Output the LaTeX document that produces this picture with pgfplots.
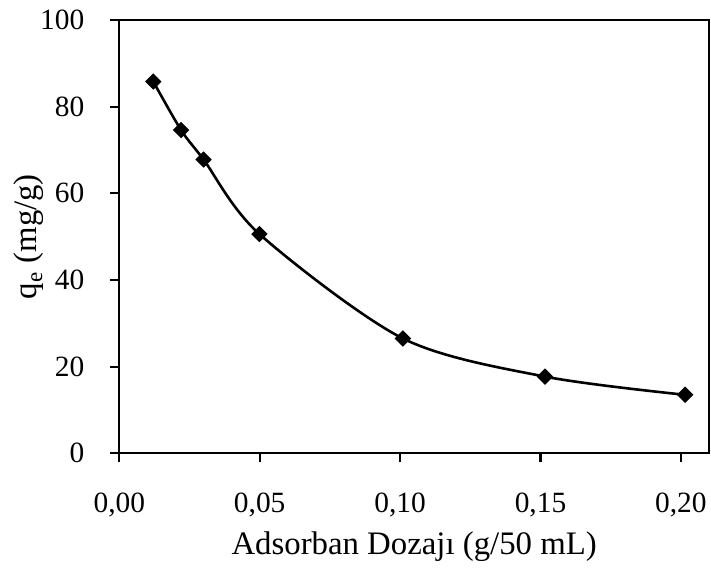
\documentclass[border=0pt]{standalone}
\usepackage{fontspec}
\setmainfont{Liberation Serif}
\usepackage{pgfplots}
\pgfplotsset{compat=1.18}
\begin{document}
\begin{tikzpicture}
\begin{axis}[
  scale only axis,
  width=294.85pt, height=216.65pt,
  xmin=0, xmax=0.21, ymin=0, ymax=100,
  xtick={0,0.05,0.1,0.15,0.2},
  ytick={0,20,40,60,80,100},
  tick align=outside, major tick length=4.5pt,
  xtick pos=bottom, ytick pos=left,
  axis line style={line width=1.1pt, black},
  every tick/.style={black, line width=1.1pt},
  /pgf/number format/assume math mode=true,
  ticklabel style={font=\fontsize{14.7}{17}\selectfont},
  x tick label style={/pgf/number format/fixed, /pgf/number format/fixed zerofill, /pgf/number format/precision=2, /pgf/number format/use comma, yshift=-12pt},
  y tick label style={xshift=-9.5pt},
  every axis x label/.style={at={(axis description cs:0.5,-0.2347)}, anchor=base, font=\fontsize{16.4}{19}\selectfont},
  every axis y label/.style={at={(axis description cs:-0.153,0.5)}, anchor=center, rotate=90, font=\fontsize{16.4}{19}\selectfont},
  xlabel={Adsorban Dozajı (g/50 mL)},
  ylabel={q\textsubscript{e} (mg/g)},
]
\addplot[black, line width=1.3pt, smooth, mark=square*, mark size=2.65pt, mark options={rotate=45, fill=black, line width=0.5pt}] coordinates {
  (0.0121,85.8)
  (0.0220,74.6)
  (0.0300,67.8)
  (0.0499,50.6)
  (0.101,26.5)
  (0.1516,17.7)
  (0.2015,13.5)
};
\end{axis}
\pgfresetboundingbox
\path ([shift={(-59.65pt,-59.35pt)}]current axis.south west) rectangle ([shift={(295.85pt,226.65pt)}]current axis.south west);
\end{tikzpicture}
\end{document}
